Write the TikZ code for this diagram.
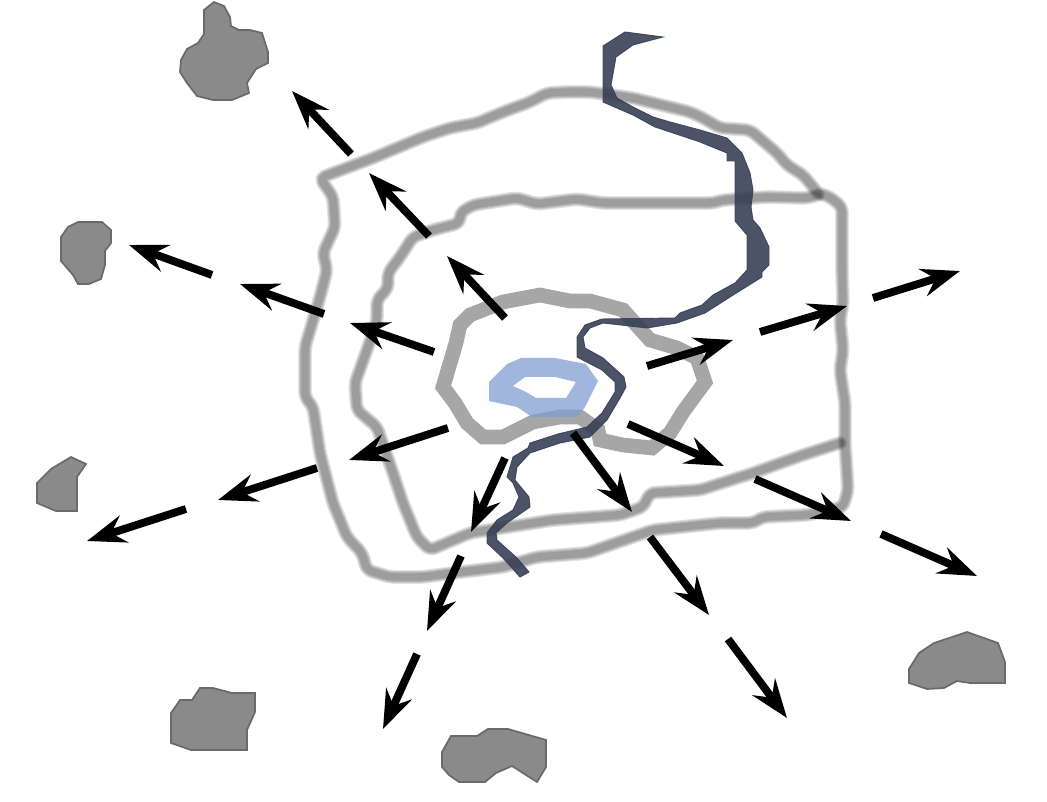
\documentclass[tikz,border=0pt]{standalone}
\usepackage{tikz}
\usetikzlibrary{arrows.meta}

\definecolor{islandfill}{HTML}{8A8A8A}
\definecolor{islandedge}{HTML}{6A6A6A}
\definecolor{ringgray}{HTML}{A6A6A6}
\definecolor{corecolor}{HTML}{809DD0}
\definecolor{rivercolor}{HTML}{374056}

\tikzset{
	island/.style={fill=islandfill, draw=islandedge, line width=1.3pt},
	flow/.style={line width=5.9pt, -{Stealth[length=29pt, width=21pt, inset=10pt]}},
	innerring/.style={draw=ringgray, line width=11pt},
	corering/.style={fill=corecolor, fill opacity=.75, even odd rule},
	river/.style={fill=rivercolor, draw=rivercolor, line width=.7pt, opacity=.9}
}
\newcommand{\blurline}[1]{%
	\foreach \w in {10.4,8.8,7.2,5.6}{\draw[black, opacity=.115, line width=\w pt, rounded corners=4pt, line cap=round, line join=round] #1;}}

\begin{document}
\begin{tikzpicture}[x=.75pt, y=-.75pt]
	\useasboundingbox (0,0) rectangle (1047,802);
	% ring roads
	\blurline{(818,193) -- (803,175) -- (787,165) -- (777,153) -- (750,130) -- (720,128) -- (703,118) -- (690,112) -- (633,98) -- (590,92) -- (567,92) -- (547,93) -- (530,102) -- (503,112) -- (477,123) -- (450,128) -- (423,137) -- (373,158) -- (320,178) -- (333,197) -- (335,227) -- (323,253) -- (327,270) -- (320,297) -- (305,347) -- (305,397) -- (313,407) -- (320,453) -- (333,503) -- (347,537) -- (362,553) -- (367,570) -- (390,577) -- (423,577) -- (453,573) -- (503,567) -- (537,557) -- (587,553) -- (653,530) -- (720,523) -- (753,523) -- (763,517) -- (807,515) -- (843,507) -- (848,490) -- (845,443) -- (845,403) -- (840,370) -- (843,350) -- (840,320) -- (843,303) -- (842,270) -- (842,207) -- (830,197) -- (818,193)}
	\blurline{(840,443) -- (803,455) -- (753,473) -- (700,490) -- (650,493) -- (643,507) -- (620,515) -- (553,520) -- (470,533) -- (430,550) -- (417,537) -- (403,503) -- (393,473) -- (377,427) -- (357,410) -- (355,383) -- (368,347) -- (377,320) -- (377,300) -- (388,288) -- (388,273) -- (400,257) -- (413,237) -- (433,230) -- (460,223) -- (460,213) -- (473,205) -- (517,198) -- (537,204) -- (577,199) -- (603,203) -- (713,203) -- (723,200) -- (767,197) -- (807,198) -- (818,195)}
	% centre
	\draw[innerring] (443,387) -- (456,343) -- (460,325) -- (470,315) -- (503,302) -- (540,295) -- (570,301) -- (590,301) -- (623,310) -- (650,340) -- (677,348) -- (697,358) -- (705,382) -- (683,412) -- (670,433) -- (652,448) -- (623,445) -- (600,440) -- (598,430) -- (580,417) -- (560,417) -- (533,422) -- (503,437) -- (483,437) -- (467,423) -- (455,403) -- cycle;
	\fill[corering] (489,382) -- (489,401) -- (517,407) -- (532,417) -- (577,417) -- (585,407) -- (598,381) -- (586,364) -- (555,358) -- (521,358) -- (507,364) -- cycle
		(513,386) -- (525,377) -- (555,377) -- (576,382) -- (566,398) -- (536,398) -- (526,392) -- cycle;
	% river
	\filldraw[river] (663,37) -- (625,32) -- (603,46) -- (603,102) -- (633,115) -- (655,127) -- (700,142) -- (727,153) -- (727,161) -- (735,161) -- (735,221) -- (747,235) -- (747,270) -- (735,283) -- (713,295) -- (702,305) -- (680,313) -- (675,318) -- (602,319) -- (585,325) -- (577,337) -- (577,357) -- (602,370) -- (615,382) -- (615,392) -- (602,413) -- (587,427) -- (558,434) -- (530,443) -- (528,448) -- (513,457) -- (507,477) -- (513,483) -- (519,497) -- (513,510) -- (497,520) -- (487,533) -- (487,543) -- (503,558) -- (520,577) -- (529,572) -- (517,558) -- (497,540) -- (496,533) -- (507,523) -- (530,507) -- (529,497) -- (515,480) -- (517,467) -- (530,453) -- (560,443) -- (590,437) -- (607,420) -- (620,398) -- (626,387) -- (624,377) -- (603,358) -- (585,348) -- (583,337) -- (590,328) -- (603,323) -- (647,328) -- (677,323) -- (705,313) -- (730,297) -- (762,277) -- (762,272) -- (769,265) -- (769,247) -- (760,228) -- (753,220) -- (751,207) -- (753,190) -- (750,173) -- (742,153) -- (727,138) -- (700,130) -- (670,122) -- (653,117) -- (633,107) -- (617,98) -- (611,85) -- (616,57) -- (633,45) -- cycle;
	% towns
	\draw[island] (214,2) -- (224,6) -- (230,17) -- (231,26) -- (239,30) -- (250,30) -- (262,33) -- (268,52) -- (268,63) -- (256,69) -- (247,83) -- (249,93) -- (232,100) -- (213,100) -- (197,96) -- (187,83) -- (180,72) -- (181,60) -- (187,49) -- (198,43) -- (204,34) -- (204,10) -- cycle;
	\draw[island] (78,222) -- (102,222) -- (111,230) -- (111,243) -- (105,251) -- (105,265) -- (101,279) -- (89,284) -- (78,284) -- (73,275) -- (61,261) -- (61,237) -- (68,227) -- cycle;
	\draw[island] (71,457) -- (86,464) -- (77,477) -- (77,511) -- (56,511) -- (37,503) -- (37,483) -- (51,469) -- cycle;
	\draw[island] (200,688) -- (213,688) -- (232,693) -- (255,693) -- (255,712) -- (247,730) -- (247,750) -- (191,750) -- (171,743) -- (171,713) -- (180,700) -- (192,700) -- cycle;
	\draw[island] (488,729) -- (508,729) -- (546,740) -- (546,767) -- (537,782) -- (512,766) -- (496,773) -- (485,782) -- (459,782) -- (449,775) -- (442,767) -- (442,752) -- (451,736) -- (477,736) -- cycle;
	\draw[island] (967,632) -- (998,643) -- (1005,662) -- (1005,683) -- (970,683) -- (957,681) -- (944,688) -- (927,689) -- (909,683) -- (909,669) -- (919,653) -- (934,643) -- cycle;
	% outward flows
	\foreach \ax/\ay/\bx/\by in {505/318/447/256, 429/236/369/173, 351/154/292/91,
		434/352/350/323, 324/314/240/284, 212/275/129/245,
		448/428/349/460, 317/468/218/500, 186/509/87/541,
		505/458/471/532, 461/556/427/631, 417/654/383/729,
		573/433/632/512, 650/537/709/615, 728/639/787/718,
		628/424/724/466, 755/479/851/521, 881/534/977/576,
		647/366/733/340, 760/332/847/306, 873/298/960/271}
		\draw[flow] (\ax,\ay) -- (\bx,\by);
\end{tikzpicture}
\end{document}
